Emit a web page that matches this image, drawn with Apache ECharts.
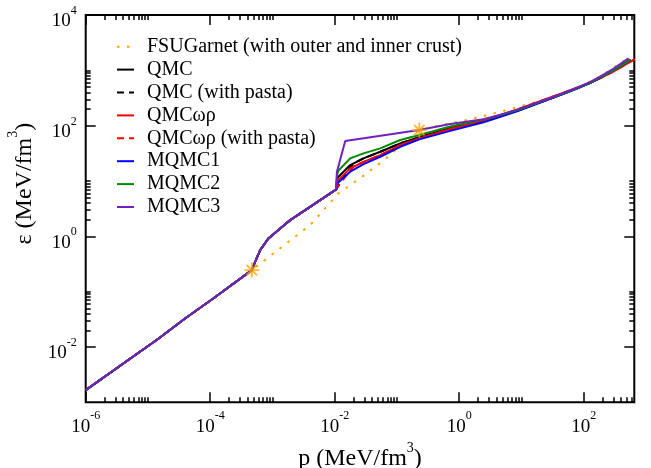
<!DOCTYPE html>
<html><head><meta charset="utf-8">
<script src="https://cdn.jsdelivr.net/npm/echarts@6/dist/echarts.min.js"></script>
<style>html,body{margin:0;padding:0;background:#fff}#c{width:651px;height:468px}</style>
</head><body><div id="c"></div>
<script>
// ---- data (p in MeV/fm^3, eps in MeV/fm^3) ----
const crustP = [1e-6, 1.47e-5, 3.94e-5, 1.12e-4, 4.67e-4, 5.27e-4, 6.34e-4, 8.63e-4, 1.33e-3, 1.93e-3, 5.85e-3, 1.06e-2];
const crustE = [1.66e-3, 1.41e-2, 3.27e-2, 7.53e-2, 0.245, 0.346, 0.562, 0.916, 1.39, 1.96, 4.52, 7.05];

const midP = [0.01084, 0.01151, 0.01774, 0.02904, 0.05395, 0.1130, 0.2286];
const qmcMidE   = [10.7, 11.9, 19.4, 25.6, 33.7, 47.9, 61.7];
const omrMidE   = [9.55, 10.4, 16.9, 22.2, 29.4, 44.6, 58.9];
const mq1MidE   = [8.91, 9.68, 14.7, 20.2, 27.4, 41.5, 56.5];
const mq2MidE   = [12.6, 15.5, 25.6, 31.6, 38.9, 55.0, 67.6];

const qmcPastaP = [0.01225, 0.01476, 0.01995, 0.02904, 0.05395, 0.1130, 0.2286];
const qmcPastaE = [9.8, 13.2, 20.7, 25.6, 33.7, 47.9, 61.7];
const omrPastaP = [0.01225, 0.01476, 0.02004, 0.02904, 0.05395, 0.1130, 0.2286];
const omrPastaE = [9.06, 11.9, 18.2, 22.2, 29.4, 44.6, 58.9];

const hiP    = [0.7194, 2.466, 4.581, 8.492, 29.17, 47.7, 78.34, 128.2, 185.8, 303.4, 563.6];
const qmcHiE = [90.6, 123.6, 149.6, 186.2, 309.0, 380.2, 473.2, 597.0, 741.3, 1000, 1567];
const omrHiP = [0.7194, 2.466, 4.581, 8.492, 29.17, 47.7, 78.34, 128.2, 185.8, 303.4, 563.6, 661];
const omrHiE = [87.1, 121.6, 154.9, 195.0, 323.6, 393.6, 484.2, 595.7, 724.4, 955.0, 1432, 1581];
const mq1HiE = [80.4, 114.8, 143.9, 181.1, 305.5, 377.6, 469.9, 595.7, 741.3, 1000, 1549];
const mq2HiE = [96.6, 128.8, 154.9, 189.2, 310.5, 381.9, 474.2, 598.4, 744.7, 1000, 1567];

const mq3P = [0.01084, 0.01476, 0.2286, 0.7194, 2.466, 4.581, 8.492, 29.17, 47.7, 78.34, 128.2, 185.8, 303.4, 525];
const mq3E = [14.5, 52.7, 83.2, 107.2, 130.3, 158.5, 195.0, 316.2, 389.0, 484.2, 616.6, 776.2, 1072, 1648];

const fsuCoreP = [4.04e-3, 0.01151, 0.02735, 0.0649, 0.145, 0.2286, 0.387, 1.178, 2.466, 5.06, 29.17, 78.34, 185.8, 549.5];
const fsuCoreE = [1.60, 5.97, 11.9, 24.9, 55.0, 83.2, 95.5, 122.7, 149.3, 183.7, 316.2, 484.2, 776.2, 1762];

const starP = [4.67e-4, 0.2286];
const starE = [0.245, 83.2];

const names = ['FSUGarnet (with outer and inner crust)', 'QMC', 'QMC (with pasta)', 'QMCωρ', 'QMCωρ (with pasta)', 'MQMC1', 'MQMC2', 'MQMC3'];

const xMajor = [1e-6, 1e-4, 1e-2, 1, 100];
const yMajor = [1e-2, 1, 100, 1e4];

// ---- helpers ----
function zip(p, e) { return p.map((v, i) => [v, e[i]]); }
function cat() { let r = []; for (const a of arguments) r = r.concat(a); return r; }
function minors(decades, maxV) {
  const out = [];
  decades.forEach(d => { for (let k = 2; k <= 10; k++) { const v = k * Math.pow(10, d); if (v <= maxV) out.push(+v.toPrecision(6)); } });
  return out;
}
const xMin = 1e-6, xMax = 650, yMin = 1e-3, yMax = 1e4;
const xMinor = minors([-6, -4, -2, 0, 2], xMax);
const yMinor = minors([-2, 0, 2], yMax);

const crust = zip(crustP, crustE);
const font = 'Liberation Serif';
function supLabel(v) { const e = Math.round(Math.log10(v)); return '{b|10}{s|' + e + '}'; }
const labelRich = {
  b: { fontFamily: font, fontSize: 19, color: '#000', lineHeight: 26, verticalAlign: 'bottom' },
  s: { fontFamily: font, fontSize: 12, color: '#000', lineHeight: 13, verticalAlign: 'top' }
};
const titleRich = {
  t: { fontFamily: font, fontSize: 24, color: '#000', lineHeight: 30, verticalAlign: 'bottom' },
  s: { fontFamily: font, fontSize: 14, color: '#000', lineHeight: 14, verticalAlign: 'top' }
};

function xAx(pos, major, withLabel) {
  return {
    type: 'log', logBase: 10, min: xMin, max: xMax, position: pos, gridIndex: 0,
    axisLine: { show: false }, splitLine: { show: false },
    axisTick: { show: true, inside: true, length: major ? 10 : 5, customValues: major ? xMajor : xMinor, lineStyle: { color: '#000', width: 1.5 } },
    axisLabel: withLabel ? { show: true, customValues: xMajor, formatter: supLabel, rich: labelRich, margin: 8 } : { show: false },
    name: withLabel ? '{t|p (MeV/fm}{s|3}{t|)}' : '', nameLocation: 'middle', nameGap: 35,
    nameTextStyle: { rich: titleRich }
  };
}
function yAx(pos, major, withLabel) {
  return {
    type: 'log', logBase: 10, min: yMin, max: yMax, position: pos, gridIndex: 0,
    axisLine: { show: false }, splitLine: { show: false },
    axisTick: { show: true, inside: true, length: major ? 10 : 5, customValues: major ? yMajor : yMinor, lineStyle: { color: '#000', width: 1.5 } },
    axisLabel: withLabel ? { show: true, customValues: yMajor, formatter: supLabel, rich: labelRich, margin: 9, padding: [6, 0, 0, 0] } : { show: false },
    name: withLabel ? '{t|ε (MeV/fm}{s|3}{t|)}' : '', nameLocation: 'middle', nameGap: 41, nameRotate: 90,
    nameTextStyle: { rich: titleRich, padding: [0, 0, 0, 50] }
  };
}

function lineSeries(name, data, color, type) {
  return {
    name, type: 'line', data, showSymbol: false, symbol: 'none', smooth: false,
    xAxisIndex: 0, yAxisIndex: 0, z: 2,
    lineStyle: { color, width: 2, type: type || 'solid' }, itemStyle: { color }
  };
}

const series = [
  lineSeries(names[0], zip(cat(crustP.slice(0, 5), fsuCoreP), cat(crustE.slice(0, 5), fsuCoreE)), '#ffa500', [2.5, 7.5]),
  lineSeries(names[1], cat(crust, zip(midP, qmcMidE), zip(hiP, qmcHiE)), '#000000'),
  lineSeries(names[2], cat(crust, zip(qmcPastaP, qmcPastaE), zip(hiP, qmcHiE)), '#000000', [7, 5]),
  lineSeries(names[3], cat(crust, zip(midP, omrMidE), zip(omrHiP, omrHiE)), '#ff0000'),
  lineSeries(names[4], cat(crust, zip(omrPastaP, omrPastaE), zip(omrHiP, omrHiE)), '#ff0000', [7, 5]),
  lineSeries(names[5], cat(crust, zip(midP, mq1MidE), zip(hiP, mq1HiE)), '#0000ff'),
  lineSeries(names[6], cat(crust, zip(midP, mq2MidE), zip(hiP, mq2HiE)), '#008b00'),
  lineSeries(names[7], cat(crust, zip(mq3P, mq3E)), '#7221bc'),
  {
    name: 'stars', type: 'scatter', data: zip(starP, starE), z: 5,
    symbol: 'path://M0,-10L0,10M-10,0L10,0M-7,-7L7,7M-7,7L7,-7', symbolSize: 15,
    itemStyle: { color: 'none', borderColor: '#ffa500', borderWidth: 1.8 }
  }
];

const chart = echarts.init(document.getElementById('c'), null, { renderer: 'canvas' });
chart.setOption({
  animation: false,
  backgroundColor: '#fff',
  grid: { left: 85.7, right: 16.7, top: 15, bottom: 65.7, show: true, borderColor: '#000', borderWidth: 2, backgroundColor: 'transparent', containLabel: false, outerBoundsMode: 'none' },
  legend: {
    data: names, orient: 'vertical', left: 116, top: 36.7, padding: 0,
    itemWidth: 17, itemHeight: 14, itemGap: 2.9,
    itemStyle: { color: 'transparent', borderWidth: 0, opacity: 0 },
    textStyle: { fontFamily: font, fontSize: 20, color: '#000', lineHeight: 20, padding: [0, 0, 0, 8] }
  },
  xAxis: [xAx('bottom', true, true), xAx('bottom', false, false), xAx('top', true, false), xAx('top', false, false)],
  yAxis: [yAx('left', true, true), yAx('left', false, false), yAx('right', true, false), yAx('right', false, false)],
  series
});
</script>
</body></html>
